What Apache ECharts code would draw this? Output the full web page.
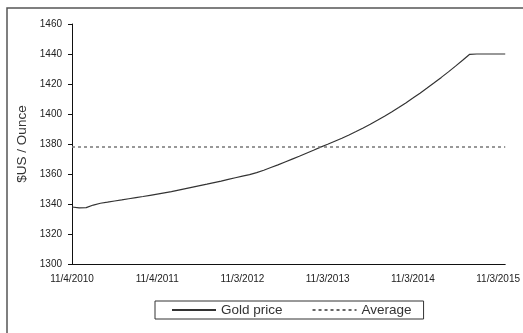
<!DOCTYPE html>
<html><head><meta charset="utf-8">
<script src="https://cdn.jsdelivr.net/npm/echarts@6/dist/echarts.min.js"></script>
<style>html,body{margin:0;padding:0;background:#fff}#c{width:523px;height:333px}</style>
</head><body><div id="c"></div>
<script>
// Tick labels shown every 12 categories (yearly)
const tickLabels = ['11/4/2010','11/4/2011','11/3/2012','11/3/2013','11/3/2014','11/3/2015'];
// Monthly category indices (62 points)
const categories = Array.from({length: 62}, (_, i) => String(i));
// Gold price ($US / Ounce)
const goldPrice = [
  1338,1337.4,1337.6,1339.3,1340.5,1341.2,1342,1342.7,1343.5,1344.3,
  1345,1345.8,1346.6,1347.4,1348.2,1349.2,1350.2,1351.2,1352.2,1353.2,
  1354.3,1355.3,1356.4,1357.5,1358.6,1359.6,1360.9,1362.5,1364.3,1366.1,
  1368,1369.9,1371.8,1373.8,1375.8,1377.9,1379.8,1381.8,1383.8,1386,
  1388.3,1390.7,1393.2,1395.8,1398.5,1401.3,1404.3,1407.4,1410.6,1413.9,
  1417.3,1420.8,1424.4,1428.1,1431.9,1435.8,1439.8,1440,1440,1440,
  1440,1440
];
const averageValue = 1378.5;

const chart = echarts.init(document.getElementById('c'), null, {renderer: 'canvas'});
const tickFont = {fontFamily: '"Liberation Sans Narrow", "Liberation Sans", Arial, sans-serif', fontSize: 10, color: '#222'};
chart.setOption({
  backgroundColor: '#fff',
  animation: false,
  graphic: [{
    type: 'rect', shape: {x: 7, y: 8, width: 700, height: 500},
    style: {fill: 'none', stroke: '#555', lineWidth: 1.5}, silent: true
  }],
  grid: {left: 72, right: 12, top: 24, bottom: 69},
  xAxis: {
    type: 'category', data: categories, boundaryGap: false,
    axisLine: {lineStyle: {color: '#111', width: 1}},
    axisTick: {show: false},
    axisLabel: Object.assign({
      interval: 11, margin: 10,
      formatter: (v, i) => tickLabels[i / 12]
    }, tickFont),
    splitLine: {show: false}
  },
  yAxis: {
    type: 'value', min: 1300, max: 1460, interval: 20,
    name: '$US / Ounce', nameLocation: 'middle', nameGap: 43,
    nameTextStyle: {fontFamily: '"Liberation Sans", Arial, sans-serif', fontSize: 13.5, color: '#333'},
    axisLine: {show: true, lineStyle: {color: '#111', width: 1}},
    axisTick: {show: true, inside: false, length: 4, lineStyle: {color: '#111'}},
    axisLabel: Object.assign({margin: 10, formatter: v => String(v)}, tickFont),
    splitLine: {show: false}
  },
  legend: {
    left: 155, top: 301,
    borderColor: '#333', borderWidth: 1,
    padding: [2, 12, 2, 16],
    itemWidth: 44, itemHeight: 14, itemGap: 29,
    itemStyle: {opacity: 0},
    textStyle: {fontFamily: '"Liberation Sans", Arial, sans-serif', fontSize: 13.5, color: '#333'},
    data: ['Gold price', 'Average']
  },
  series: [
    {
      name: 'Gold price', type: 'line', data: goldPrice, symbol: 'none',
      lineStyle: {color: '#333', width: 1.2}, itemStyle: {color: '#333'}
    },
    {
      name: 'Average', type: 'line', data: [], symbol: 'none',
      lineStyle: {color: '#666', width: 1.5, type: [3, 3]}, itemStyle: {color: '#666'},
      markLine: {
        silent: true, symbol: 'none', label: {show: false},
        lineStyle: {color: '#777', width: 1.5, type: [3, 3]},
        data: [{yAxis: averageValue}]
      }
    }
  ]
});
</script></body></html>
